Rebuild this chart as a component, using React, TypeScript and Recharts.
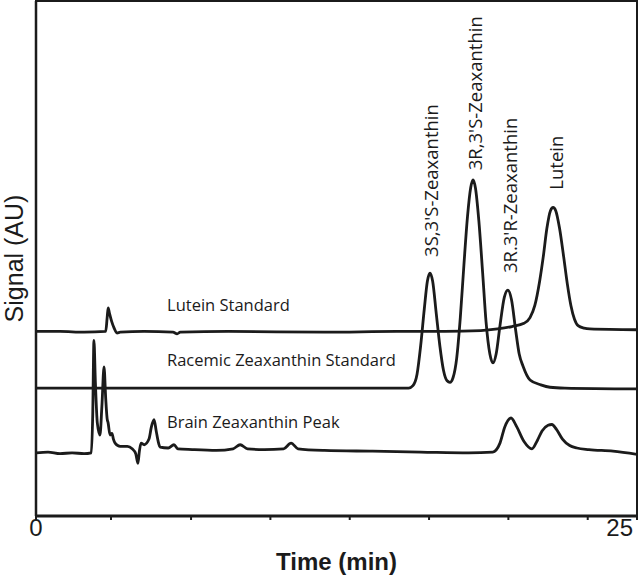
import React from "react";
import {
  LineChart,
  Line,
  XAxis,
  YAxis,
  ReferenceArea,
  ReferenceDot,
  Label,
} from "recharts";

// chromatogram traces: [time (min), signal (AU, offset per trace)]
const luteinStandard: [number, number][] = [
  [0, 1.23], [1.0, 1.23], [2.0, 1.22], [2.9, 1.23], [2.96, 1.4], [3.0, 1.52],
  [3.06, 1.45], [3.15, 1.35], [3.25, 1.27], [3.37, 1.21], [3.5, 1.22],
  [4.5, 1.23], [5.7, 1.22], [5.87, 1.2], [6.0, 1.22], [8.0, 1.23],
  [12.0, 1.22], [15.0, 1.23], [17.0, 1.23], [18.5, 1.24], [19.2, 1.26],
  [19.8, 1.29], [20.3, 1.33], [20.55, 1.4], [20.75, 1.55], [20.95, 1.85],
  [21.1, 2.15], [21.25, 2.5], [21.4, 2.72], [21.51, 2.76], [21.62, 2.72],
  [21.78, 2.5], [21.95, 2.15], [22.1, 1.82], [22.25, 1.55], [22.4, 1.38],
  [22.55, 1.3], [22.8, 1.27], [23.04, 1.26], [25, 1.25],
];

const racemicStandard: [number, number][] = [
  [0, 0.53], [4.0, 0.53], [8.0, 0.53], [12.0, 0.53], [15.5, 0.53],
  [15.68, 0.56], [15.85, 0.7], [16.0, 1.05], [16.15, 1.5], [16.28, 1.85],
  [16.39, 1.95], [16.5, 1.85], [16.65, 1.45], [16.8, 1.05], [16.95, 0.75],
  [17.1, 0.62], [17.22, 0.6], [17.35, 0.66], [17.5, 0.9], [17.65, 1.4],
  [17.8, 2.05], [17.95, 2.65], [18.08, 3.0], [18.18, 3.1], [18.28, 3.0],
  [18.42, 2.6], [18.58, 1.95], [18.72, 1.35], [18.88, 0.95], [19.01, 0.84],
  [19.14, 0.95], [19.3, 1.3], [19.48, 1.65], [19.63, 1.74], [19.78, 1.62],
  [19.95, 1.25], [20.1, 0.95], [20.26, 0.8], [20.55, 0.63], [21.0, 0.57],
  [21.38, 0.54], [22.0, 0.53], [25, 0.52],
];

const brainPeak: [number, number][] = [
  [0, -0.27], [0.5, -0.26], [1.0, -0.28], [1.5, -0.27], [2.0, -0.28],
  [2.3, -0.27], [2.36, 0.2], [2.41, 1.12], [2.47, 0.6], [2.55, 0.1],
  [2.66, -0.05], [2.74, 0.3], [2.83, 0.79], [2.9, 0.4], [2.96, 0.15],
  [3.0, 0.1], [3.08, -0.05], [3.16, -0.03], [3.22, -0.1], [3.29, -0.15],
  [3.5, -0.19], [3.8, -0.19], [4.0, -0.22], [4.15, -0.28], [4.24, -0.4],
  [4.3, -0.25], [4.37, -0.15], [4.5, -0.17], [4.7, -0.1], [4.8, 0.05],
  [4.91, 0.14], [5.0, 0.0], [5.1, -0.15], [5.16, -0.2], [5.5, -0.21],
  [5.74, -0.17], [5.9, -0.22], [6.5, -0.23], [7.5, -0.24], [8.2, -0.22],
  [8.49, -0.17], [8.8, -0.22], [9.5, -0.23], [10.3, -0.22], [10.61, -0.15],
  [10.9, -0.22], [12.0, -0.24], [14.0, -0.25], [16.0, -0.26], [18.0, -0.27],
  [19.0, -0.26], [19.3, -0.15], [19.5, 0.05], [19.76, 0.16], [20.0, 0.05],
  [20.3, -0.13], [20.63, -0.22], [20.85, -0.12], [21.05, 0.0], [21.3, 0.07],
  [21.46, 0.08], [21.65, 0.02], [21.9, -0.1], [22.2, -0.18], [22.5, -0.21],
  [23.0, -0.23], [24.0, -0.25], [25, -0.29],
];

const traces = [luteinStandard, racemicStandard, brainPeak];
const traceNames = [
  "Lutein Standard",
  "Racemic Zeaxanthin Standard",
  "Brain Zeaxanthin Peak",
];
const peakNames = [
  "3S,3'S-Zeaxanthin",
  "3R,3'S-Zeaxanthin",
  "3R.3'R-Zeaxanthin",
  "Lutein",
];

const xTicks = [0, 3.12, 6.45, 9.75, 13.05, 16.35, 19.65, 22.95, 25];
const yTicks = [0, 1, 2, 3, 4];

// where the text labels sit (time, signal)
const traceLabelPos: [number, number][] = [
  [5.45, 1.56],
  [5.45, 0.88],
  [5.45, 0.12],
];
const peakLabelPos: [number, number][] = [
  [16.39, 2.15],
  [18.25, 3.22],
  [19.68, 1.95],
  [21.6, 2.98],
];

const Y_MIN = -1.05;
const Y_MAX = 5.31;
const INK = "#1b1b1b";
const LABEL_FONT = "'Open Sans', sans-serif";

const TimeTick = (props: any) => {
  const { x, y, payload } = props;
  const v = payload.value;
  if (v !== 0 && v !== 25) return null;
  return (
    <text
      x={v === 25 ? x + 1 : x}
      y={y + 14}
      textAnchor={v === 25 ? "end" : "middle"}
      fontFamily="'Liberation Sans', Arial, sans-serif"
      fontSize={24}
      fill={INK}
    >
      {v}
    </text>
  );
};

const App: React.FC = () => {
  return (
    <div style={{ width: 640, height: 575 }}>
      <style>{"body{margin:0}"}</style>
      <LineChart
        width={640}
        height={575}
        margin={{ top: 1, right: 3, bottom: 0, left: 0 }}
      >
        <XAxis
          dataKey="t"
          type="number"
          domain={[0, 25]}
          ticks={xTicks}
          allowDataOverflow
          height={59}
          tickSize={4}
          tick={<TimeTick />}
          axisLine={{ stroke: INK, strokeWidth: 3 }}
          tickLine={{ stroke: INK, strokeWidth: 2 }}
        >
          <Label
            value="Time (min)"
            position="insideBottom"
            offset={5}
            style={{
              fontFamily: "'Liberation Sans', Arial, sans-serif",
              fontWeight: "bold",
              fontSize: 24,
              fill: INK,
            }}
          />
        </XAxis>
        <YAxis
          type="number"
          domain={[Y_MIN, Y_MAX]}
          ticks={yTicks}
          allowDataOverflow
          width={36}
          tickSize={5}
          tick={false}
          axisLine={{ stroke: INK, strokeWidth: 2.5 }}
          tickLine={{ stroke: INK, strokeWidth: 2 }}
        >
          <Label
            value="Signal (AU)"
            angle={-90}
            position="insideLeft"
            offset={14}
            style={{
              textAnchor: "middle",
              fontFamily: "'Liberation Sans', Arial, sans-serif",
              fontSize: 25,
              fill: INK,
            }}
          />
        </YAxis>
        <ReferenceArea
          x1={0}
          x2={25}
          y1={Y_MIN}
          y2={Y_MAX}
          fill="none"
          stroke={INK}
          strokeWidth={2}
          ifOverflow="visible"
        />
        {traces.map((trace, i) => (
          <Line
            key={traceNames[i]}
            data={trace.map(([t, v]) => ({ t, v }))}
            dataKey="v"
            type="monotone"
            stroke={INK}
            strokeWidth={2.8}
            dot={false}
            isAnimationActive={false}
          />
        ))}
        {traceNames.map((name, i) => (
          <ReferenceDot
            key={name}
            x={traceLabelPos[i][0]}
            y={traceLabelPos[i][1]}
            r={0}
            fill="none"
            stroke="none"
            label={(p: any) => (
              <text
                x={p.viewBox.x}
                y={p.viewBox.y}
                dominantBaseline="central"
                fontFamily={LABEL_FONT}
                fontSize={16.5}
                fill={INK}
              >
                {name}
              </text>
            )}
          />
        ))}
        {peakNames.map((name, i) => {
          const [t, v] = peakLabelPos[i];
          return (
            <ReferenceDot
              key={name}
              x={t}
              y={v}
              r={0}
              fill="none"
              stroke="none"
              label={(p: any) => (
                <text
                  x={p.viewBox.x}
                  y={p.viewBox.y}
                  transform={`rotate(-90 ${p.viewBox.x} ${p.viewBox.y})`}
                  textAnchor="start"
                  dominantBaseline="central"
                  fontFamily={LABEL_FONT}
                  fontSize={18.5}
                  fill={INK}
                >
                  {name}
                </text>
              )}
            />
          );
        })}
      </LineChart>
    </div>
  );
};

export default App;
